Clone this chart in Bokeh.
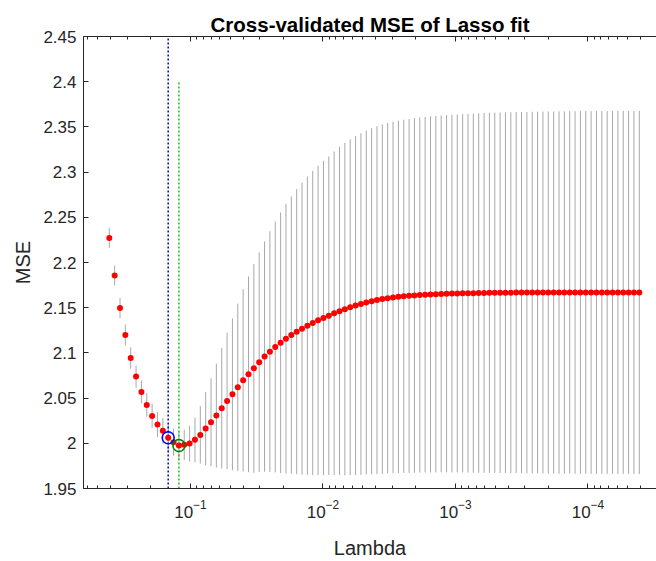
from bokeh.plotting import figure
from bokeh.models import Range1d, FixedTicker, LogAxis, CustomJSTickFormatter
from bokeh.embed import file_html
from bokeh.resources import INLINE
import numpy as np

# ---------------- data ----------------
lambdas = [
    0.41000, 0.37358, 0.34039, 0.31015, 0.28259, 0.25749, 0.23462, 0.21377, 0.19479, 0.17748,
    0.16171, 0.14734, 0.13426, 0.12233, 0.11146, 0.10156, 0.092538, 0.084316, 0.076827, 0.070000,
    0.063782, 0.058117, 0.052953, 0.048249, 0.043963, 0.040057, 0.036499, 0.033256, 0.030302, 0.027609,
    0.025157, 0.022923, 0.020886, 0.019031, 0.017340, 0.015799, 0.014396, 0.013117, 0.011952, 0.010890,
    9.9225e-3, 9.0410e-3, 8.2377e-3, 7.5060e-3, 6.8391e-3, 6.2317e-3, 5.6780e-3, 5.1736e-3, 4.7140e-3, 4.2952e-3,
    3.9137e-3, 3.5660e-3, 3.2491e-3, 2.9606e-3, 2.6975e-3, 2.4579e-3, 2.2396e-3, 2.0406e-3, 1.8593e-3, 1.6941e-3,
    1.5436e-3, 1.4065e-3, 1.2816e-3, 1.1677e-3, 1.0640e-3, 9.6945e-4, 8.8334e-4, 8.0485e-4, 7.3336e-4, 6.6820e-4,
    6.0885e-4, 5.5477e-4, 5.0548e-4, 4.6058e-4, 4.1966e-4, 3.8238e-4, 3.4841e-4, 3.1745e-4, 2.8926e-4, 2.6355e-4,
    2.4014e-4, 2.1882e-4, 1.9937e-4, 1.8167e-4, 1.6552e-4, 1.5082e-4, 1.3742e-4, 1.2522e-4, 1.1409e-4, 1.0395e-4,
    9.4719e-5, 8.6305e-5, 7.8637e-5, 7.1652e-5, 6.5286e-5, 5.9487e-5, 5.4202e-5, 4.9387e-5, 4.5000e-5, 4.1001e-5,
]

mse = [
    2.2270, 2.1857, 2.1496, 2.1198, 2.0944, 2.0738, 2.0568, 2.0425, 2.0303, 2.0207,
    2.0138, 2.0062, 2.0012, 1.9975, 1.9983, 1.9997, 2.0038, 2.0093, 2.0163, 2.0233,
    2.0307, 2.0388, 2.0469, 2.0542, 2.0620, 2.0697, 2.0763, 2.0829, 2.0896, 2.0959,
    2.1014, 2.1066, 2.1113, 2.1157, 2.1198, 2.1235, 2.1268, 2.1301, 2.1331, 2.1360,
    2.1386, 2.1412, 2.1438, 2.1462, 2.1484, 2.1505, 2.1524, 2.1541, 2.1557, 2.1571,
    2.1584, 2.1595, 2.1605, 2.1613, 2.1620, 2.1626, 2.1631, 2.1636, 2.1640, 2.1644,
    2.1647, 2.1650, 2.1652, 2.1654, 2.1656, 2.1658, 2.1659, 2.1660, 2.1661, 2.1662,
    2.1663, 2.1664, 2.1665, 2.1665, 2.1666, 2.1666, 2.1667, 2.1667, 2.1667, 2.1668,
    2.1668, 2.1668, 2.1668, 2.1668, 2.1668, 2.1668, 2.1669, 2.1669, 2.1669, 2.1669,
    2.1669, 2.1669, 2.1669, 2.1669, 2.1669, 2.1669, 2.1669, 2.1669, 2.1669, 2.1669,
]

se = [
    0.0110, 0.0110, 0.0112, 0.0114, 0.0118, 0.0122, 0.0126, 0.0130, 0.0134, 0.0138,
    0.0142, 0.0146, 0.0150, 0.0155, 0.0168, 0.0198, 0.0247, 0.0318, 0.0405, 0.0486,
    0.0575, 0.0667, 0.0755, 0.0840, 0.0925, 0.1008, 0.1083, 0.1155, 0.1215, 0.1274,
    0.1333, 0.1388, 0.1442, 0.1490, 0.1534, 0.1577, 0.1615, 0.1650, 0.1683, 0.1712,
    0.1740, 0.1762, 0.1790, 0.1815, 0.1838, 0.1857, 0.1874, 0.1889, 0.1902, 0.1914,
    0.1925, 0.1932, 0.1938, 0.1944, 0.1949, 0.1953, 0.1957, 0.1961, 0.1964, 0.1967,
    0.1970, 0.1972, 0.1974, 0.1976, 0.1978, 0.1980, 0.1982, 0.1984, 0.1986, 0.1988,
    0.1990, 0.1992, 0.1993, 0.1994, 0.1995, 0.1996, 0.1997, 0.1998, 0.1999, 0.2000,
    0.2001, 0.2002, 0.2003, 0.2003, 0.2004, 0.2004, 0.2005, 0.2005, 0.2006, 0.2006,
    0.2006, 0.2007, 0.2007, 0.2007, 0.2007, 0.2008, 0.2008, 0.2008, 0.2008, 0.2008,
]

y_ticks = [1.95, 2.0, 2.05, 2.1, 2.15, 2.2, 2.25, 2.3, 2.35, 2.4, 2.45]
x_major_ticks = [1e-1, 1e-2, 1e-3, 1e-4]
x_minor_ticks = [0.6, 0.5, 0.4, 0.3, 0.2,
                 0.09, 0.08, 0.07, 0.06, 0.05, 0.04, 0.03, 0.02,
                 0.009, 0.008, 0.007, 0.006, 0.005, 0.004, 0.003, 0.002,
                 9e-4, 8e-4, 7e-4, 6e-4, 5e-4, 4e-4, 3e-4, 2e-4,
                 9e-5, 8e-5, 7e-5, 6e-5, 5e-5, 4e-5, 3e-5]
x_limits = (0.6419, 3.041e-5)
y_limits = (1.95, 2.45)
min_mse_line_top = 2.40
one_se_line_top = 2.45

title_text = "Cross-validated MSE of Lasso fit"
x_label = "Lambda"
y_label = "MSE"

# ---------------- derived ----------------
lam = np.array(lambdas)
m = np.array(mse)
s = np.array(se)
i_min = int(np.argmin(m))
thr = m[i_min] + s[i_min]
i_1se = int(np.min(np.where(m <= thr)[0]))

FONT = "Liberation Sans"
AX = "#262626"

p = figure(width=656, height=561, x_axis_type="log",
           x_range=Range1d(*x_limits), y_range=Range1d(*y_limits),
           output_backend="svg", toolbar_location=None,
           min_border_left=83, min_border_right=0, min_border_top=36, min_border_bottom=72,
           background_fill_color="white", border_fill_color="white",
           outline_line_color=None)
p.grid.visible = False

p.title.text = title_text
p.title.align = "center"
p.title.text_font = FONT
p.title.text_font_size = "20.5px"
p.title.text_font_style = "bold"
p.title.text_color = "#000000"
p.title.standoff = 2

xa = p.xaxis[0]
xa.ticker = FixedTicker(ticks=x_major_ticks, minor_ticks=x_minor_ticks)
xa.axis_label = x_label
ya = p.yaxis[0]
ya.ticker = FixedTicker(ticks=y_ticks)
ya.formatter = CustomJSTickFormatter(code="return String(parseFloat(tick.toFixed(2)));")
ya.axis_label = y_label

for ax in (xa, ya):
    ax.axis_line_color = AX
    ax.major_tick_line_color = AX
    ax.minor_tick_line_color = AX
    ax.major_tick_in = 5
    ax.major_tick_out = 0
    ax.minor_tick_in = 3
    ax.minor_tick_out = 0
    ax.major_label_text_font = FONT
    ax.major_label_text_font_size = "17px"
    ax.major_label_text_color = AX
    ax.axis_label_text_font = FONT
    ax.axis_label_text_font_size = "20px"
    ax.axis_label_text_font_style = "normal"
    ax.axis_label_text_color = AX
ya.minor_tick_line_color = None
ya.major_label_standoff = 7
ya.axis_label_standoff = 6
xa.major_label_standoff = 11
xa.axis_label_standoff = 16

top = LogAxis(ticker=FixedTicker(ticks=x_major_ticks, minor_ticks=x_minor_ticks),
              formatter=CustomJSTickFormatter(code="return '';"),
              axis_line_color=AX, major_tick_line_color=AX, minor_tick_line_color=AX,
              major_tick_in=5, major_tick_out=0, minor_tick_in=3, minor_tick_out=0,
              major_label_standoff=0, major_label_text_font_size="1px")
p.add_layout(top, "above")

# error bars
p.segment(x0=lam, y0=m - s, x1=lam, y1=m + s, line_color="#a8a8a8", line_width=1)

# guide lines
p.segment(x0=[lam[i_1se]], y0=[y_limits[0]], x1=[lam[i_1se]], y1=[one_se_line_top],
          line_color="#0000cc", line_dash="2 2", line_width=1.5)
p.segment(x0=[lam[i_min]], y0=[y_limits[0]], x1=[lam[i_min]], y1=[min_mse_line_top],
          line_color="#22bb22", line_dash="2 2", line_width=1.5)

# mean points
p.scatter(lam, m, size=6, color="#ff0000", line_color=None)

# highlight circles
p.scatter([lam[i_1se]], [m[i_1se]], size=12, marker="circle", fill_color=None,
          line_color="#0000ff", line_width=1.5)
p.scatter([lam[i_min]], [m[i_min]], size=12, marker="circle", fill_color=None,
          line_color="#007f00", line_width=1.5)

open("out.html", "w").write(file_html(p, INLINE))
